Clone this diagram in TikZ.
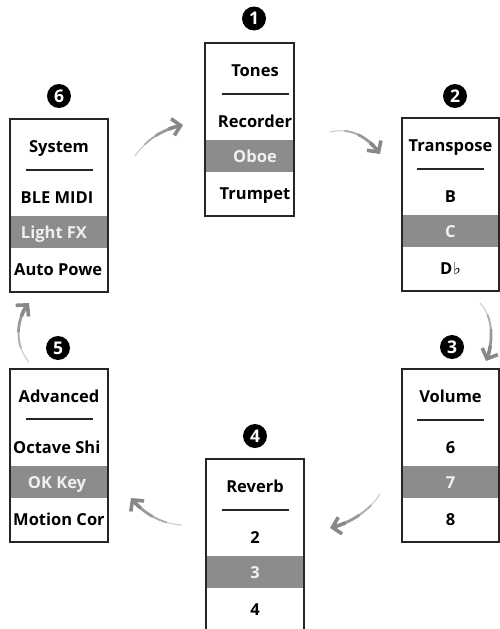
\documentclass[tikz,border=0pt]{standalone}
\usepackage{fontspec}
\setmainfont{Open Sans}
\usetikzlibrary{arrows.meta,calc}
\definecolor{bandgray}{HTML}{8C8C8C}
\definecolor{seltext}{HTML}{F0F0F0}
\definecolor{frame}{HTML}{262626}
\definecolor{arrA}{HTML}{C8C8C8}
\definecolor{arrB}{HTML}{ADADAD}
\definecolor{arrC}{HTML}{999999}
\definecolor{arrD}{HTML}{888888}
\newcommand{\splitbez}[5]{%
  \coordinate (#5a) at ($(#1)!0.5!(#2)$);
  \coordinate (#5b) at ($(#2)!0.5!(#3)$);
  \coordinate (#5c) at ($(#3)!0.5!(#4)$);
  \coordinate (#5d) at ($(#5a)!0.5!(#5b)$);
  \coordinate (#5e) at ($(#5b)!0.5!(#5c)$);
  \coordinate (#5m) at ($(#5d)!0.5!(#5e)$);
}
\newcommand{\taperarrow}[5]{%
  \coordinate (#5p0) at #1;
  \coordinate (#5p1) at #2;
  \coordinate (#5p2) at #3;
  \coordinate (#5p3) at #4;
  \splitbez{#5p0}{#5p1}{#5p2}{#5p3}{#5}
  \splitbez{#5p0}{#5a}{#5d}{#5m}{#5L}
  \splitbez{#5m}{#5e}{#5c}{#5p3}{#5R}
  \draw[line width=1.0pt, arrA, line cap=round] (#5p0) .. controls (#5La) and (#5Ld) .. (#5Lm);
  \draw[line width=1.9pt, arrB, line cap=round] (#5Lm) .. controls (#5Le) and (#5Lc) .. (#5m);
  \draw[line width=2.8pt, arrC, line cap=round] (#5m) .. controls (#5Ra) and (#5Rd) .. (#5Rm);
  \draw[line width=3.6pt, arrD, -{Straight Barb[length=8pt,width=17pt]}] (#5Rm) .. controls (#5Re) and (#5Rc) .. (#5p3);
}
\begin{document}
\begin{tikzpicture}[x=1pt,y=-1pt,
  menubox/.style={draw=frame, line width=1.3pt, inner sep=0pt},
  band/.style={fill=bandgray},
  divider/.style={draw=frame, line width=1.2pt},
  ttl/.style={anchor=base, inner sep=0pt, font=\fontsize{16.5}{20}\selectfont\bfseries, text=black},
  itm/.style={anchor=base, inner sep=0pt, font=\fontsize{16.5}{20}\selectfont\bfseries, text=black},
  sel/.style={itm, text=seltext},
  itmw/.style={itm, anchor=base west},
  selw/.style={sel, anchor=base west},
  numdot/.style={circle, fill=black, text=white, inner sep=0pt, minimum size=24pt, font=\fontsize{17.5}{17.5}\selectfont\bfseries}
]
\clip (0,0) rectangle (500,629);
\fill[white] (0,0) rectangle (500,629);

% ---- Box 1: Tones (top 43)
\fill[band] (205,140) rectangle (294,172);
\node[menubox, minimum width=89pt, minimum height=173pt] (b1) at (249.5,129.5) {};
\node[ttl] (b1t) at (255,76) {Tones};
\draw[divider] (221.5,94) -- (288.5,94);
\node[itm] (b1a) at (255,127) {Recorder};
\node[sel] (b1b) at (255,162) {Oboe};
\node[itm] (b1c) at (255,199) {Trumpet};
\node[numdot] (n1) at (254,18.5) {1};

% ---- Box 2: Transpose (top 118)
\fill[band] (402,215) rectangle (499,247);
\node[menubox, minimum width=97pt, minimum height=173pt] (b2) at (450.5,204.5) {};
\node[ttl] (b2t) at (450.5,151) {Transpose};
\draw[divider] (417,169) -- (484,169);
\node[itm] (b2a) at (450.5,202) {B};
\node[sel] (b2b) at (450.5,237) {C};
\node[itm] (b2c) at (450.5,274) {D\kern1pt{\fontspec{DejaVu Sans}\char"266D}};
\node[numdot] (n2) at (455,96) {2};

% ---- Box 3: Volume (top 369)
\fill[band] (402,466) rectangle (499,498);
\node[menubox, minimum width=97pt, minimum height=173pt] (b3) at (450.5,455.5) {};
\node[ttl] (b3t) at (450.5,402) {Volume};
\draw[divider] (417,420) -- (484,420);
\node[itm] (b3a) at (450.5,453) {6};
\node[sel] (b3b) at (450.5,488) {7};
\node[itm] (b3c) at (450.5,525) {8};
\node[numdot] (n3) at (452,347) {3};

% ---- Box 4: Reverb (top 459)
\fill[band] (206,556) rectangle (304,588);
\node[menubox, minimum width=98pt, minimum height=173pt] (b4) at (255,545.5) {};
\node[ttl] (b4t) at (255,492) {Reverb};
\draw[divider] (221.5,510) -- (288.5,510);
\node[itm] (b4a) at (255,543) {2};
\node[sel] (b4b) at (255,578) {3};
\node[itm] (b4c) at (255,615) {4};
\node[numdot] (n4) at (255,436) {4};

% ---- Box 5: Advanced (top 369)
\begin{scope}
\clip (10,369) rectangle (108,542);
\fill[band] (10,466) rectangle (108,498);
\node[ttl] (b5t) at (59,402) {Advanced};
\node[itmw] (b5a) at (13,453) {Octave Shi};
\node[sel] (b5b) at (57,488) {OK Key};
\node[itmw] (b5c) at (13,525) {Motion Cor};
\end{scope}
\node[menubox, minimum width=98pt, minimum height=173pt] (b5) at (59,455.5) {};
\draw[divider] (25.5,419) -- (92.5,419);
\node[numdot] (n5) at (58,348) {5};

% ---- Box 6: System (top 119)
\begin{scope}
\clip (10,119) rectangle (108,292);
\fill[band] (10,216) rectangle (108,248);
\node[ttl] (b6t) at (59,152) {System};
\node[itm] (b6a) at (57,203) {BLE MIDI};
\node[sel] (b6b) at (54,238) {Light FX};
\node[itmw] (b6c) at (14,275) {Auto Powe};
\end{scope}
\node[menubox, minimum width=98pt, minimum height=173pt] (b6) at (59,205.5) {};
\draw[divider] (25.5,170) -- (92.5,170);
\node[numdot] (n6) at (59,96) {6};

% ---- Arrows
\taperarrow{(135,156)}{(147,139)}{(163,129)}{(183,125)}{ar1}
\taperarrow{(330,132)}{(351,127)}{(368,137)}{(380,154)}{ar2}
\taperarrow{(480,303)}{(493,316)}{(494,342)}{(486,361)}{ar3}
\taperarrow{(380,494)}{(370,510)}{(351,523)}{(330,528)}{ar4}
\taperarrow{(182,525)}{(160,524)}{(142,512)}{(131,498)}{ar5}
\taperarrow{(29,362)}{(14,345)}{(16,318)}{(29,303)}{ar6}
\end{tikzpicture}
\end{document}
